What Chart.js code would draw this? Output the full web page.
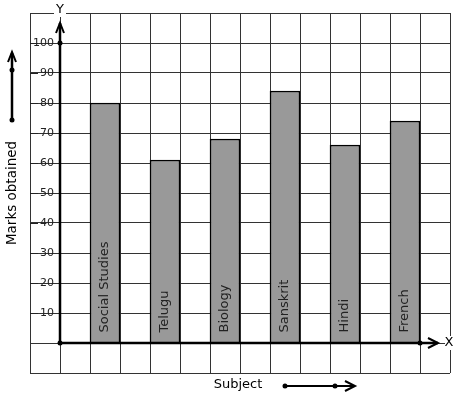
<!DOCTYPE html>
<html>
<head>
<meta charset="utf-8">
<script src="https://cdn.jsdelivr.net/npm/chart.js@4"></script>
<style>
html,body{margin:0;padding:0;background:#fff;}
#wrap{width:457px;height:399px;}
</style>
</head>
<body>
<div id="wrap"><canvas id="c" width="457" height="399"></canvas></div>
<script>
const subjects = ['Social Studies', 'Telugu', 'Biology', 'Sanskrit', 'Hindi', 'French'];
const marks = [80, 61, 68, 84, 66, 74];
const yTickLabels = [10, 20, 30, 40, 50, 60, 70, 80, 90, 100];
const xTitle = 'Subject';
const yTitle = 'Marks obtained';

// 14 grid columns; subjects sit in every other column starting at column 2
const slotCount = 14;
const slotLabels = Array(slotCount).fill('');
const slotData = Array(slotCount).fill(null);
subjects.forEach((s, i) => { slotLabels[2 + 2 * i] = s; slotData[2 + 2 * i] = marks[i]; });

const FONT = 'DejaVu Sans';

function dot(ctx, x, y, r) { ctx.beginPath(); ctx.arc(x, y, r, 0, Math.PI * 2); ctx.fill(); }
function chevron(ctx, x, y, dir, len, half) {
  ctx.beginPath();
  if (dir === 'up') { ctx.moveTo(x - half, y + len); ctx.lineTo(x, y); ctx.lineTo(x + half, y + len); }
  else { ctx.moveTo(x - len, y - half); ctx.lineTo(x, y); ctx.lineTo(x - len, y + half); }
  ctx.stroke();
}

const decor = {
  id: 'decor',
  beforeDatasetsDraw(chart) {
    const ctx = chart.ctx, y = chart.scales.y, left = chart.chartArea.left;
    ctx.save();
    ctx.strokeStyle = '#222'; ctx.lineWidth = 1;
    yTickLabels.forEach(v => {
      const py = Math.round(y.getPixelForValue(v)) + 0.5;
      ctx.beginPath(); ctx.moveTo(left, py); ctx.lineTo(left + 8, py); ctx.stroke();
    });
    ctx.restore();
  },
  afterDatasetsDraw(chart) {
    const ctx = chart.ctx, xs = chart.scales.x, ys = chart.scales.y;
    const meta = chart.getDatasetMeta(0);
    ctx.save();
    // bar labels
    ctx.fillStyle = '#222';
    ctx.font = '13px "' + FONT + '"';
    ctx.textAlign = 'left'; ctx.textBaseline = 'middle';
    meta.data.forEach((bar, i) => {
      if (slotData[i] === null) return;
      ctx.save();
      ctx.translate(bar.x, bar.base - 10);
      ctx.rotate(-Math.PI / 2);
      ctx.fillText(slotLabels[i], 0, 0);
      ctx.restore();
    });
    // axes
    const ox = (xs.getPixelForValue(0) + xs.getPixelForValue(1)) / 2;
    const oy = ys.getPixelForValue(0);
    const top = chart.chartArea.top, right = chart.chartArea.right;
    ctx.strokeStyle = '#000'; ctx.fillStyle = '#000'; ctx.lineWidth = 2.5;
    ctx.beginPath(); ctx.moveTo(ox, oy); ctx.lineTo(ox, top + 10); ctx.stroke();
    ctx.beginPath(); ctx.moveTo(ox, oy); ctx.lineTo(right - 12, oy); ctx.stroke();
    ctx.lineWidth = 2;
    chevron(ctx, ox, top + 10, 'up', 10, 4);
    chevron(ctx, right - 12, oy, 'right', 10, 5);
    dot(ctx, ox, oy, 2.5);
    dot(ctx, ox, ys.getPixelForValue(100), 2.5);
    dot(ctx, (xs.getPixelForValue(12) + xs.getPixelForValue(13)) / 2, oy, 2.5);
    // axis letters
    ctx.font = '13px "' + FONT + '"';
    ctx.textAlign = 'center'; ctx.textBaseline = 'middle';
    ctx.fillStyle = '#fff';
    ctx.fillRect(ox - 6, top - 9, 12, 13);
    ctx.fillRect(right - 5, oy - 7, 10, 14);
    ctx.fillStyle = '#000';
    ctx.fillText('Y', ox, top - 3);
    ctx.fillText('X', right - 1, oy);
    // left arrow + title
    ctx.lineWidth = 2.5;
    ctx.beginPath(); ctx.moveTo(12, 120); ctx.lineTo(12, 53); ctx.stroke();
    ctx.lineWidth = 2;
    chevron(ctx, 12, 52, 'up', 10, 4);
    dot(ctx, 12, 120, 2.5); dot(ctx, 12, 70, 2.5);
    ctx.save();
    ctx.translate(12, 193); ctx.rotate(-Math.PI / 2);
    ctx.font = '13.5px "' + FONT + '"';
    ctx.fillText(yTitle, 0, 0);
    ctx.restore();
    // bottom title + arrow
    ctx.font = '13px "' + FONT + '"';
    ctx.textAlign = 'center';
    ctx.fillText(xTitle, 238, 385);
    ctx.lineWidth = 2;
    ctx.beginPath(); ctx.moveTo(285, 386); ctx.lineTo(354, 386); ctx.stroke();
    chevron(ctx, 355, 386, 'right', 10, 5);
    dot(ctx, 285, 386, 2.5); dot(ctx, 335, 386, 2.5);
    ctx.restore();
  }
};

new Chart(document.getElementById('c'), {
  type: 'bar',
  data: {
    labels: slotLabels,
    datasets: [{
      data: slotData,
      backgroundColor: '#999999',
      borderColor: '#000',
      borderWidth: 1.5,
      barPercentage: 1,
      categoryPercentage: 1
    }]
  },
  options: {
    responsive: false,
    animation: false,
    events: [],
    layout: { padding: { left: 30, top: 13, right: 7, bottom: 26 } },
    plugins: { legend: { display: false }, tooltip: { enabled: false } },
    scales: {
      x: {
        grid: { color: '#333', lineWidth: 1, drawTicks: false, offset: true },
        border: { display: false },
        ticks: { display: false },
        afterFit: s => { s.height = 0; }
      },
      y: {
        min: -10, max: 110,
        grid: { color: '#333', lineWidth: 1, drawTicks: false },
        border: { display: false },
        ticks: {
          stepSize: 10, mirror: true, crossAlign: 'far', padding: 3,
          color: '#222', font: { family: FONT, size: 11 },
          autoSkip: false,
          callback: v => yTickLabels.includes(v) ? String(v) : ''
        },
        afterFit: s => { s.width = 0; }
      }
    }
  },
  plugins: [decor]
});
</script>
</body>
</html>
